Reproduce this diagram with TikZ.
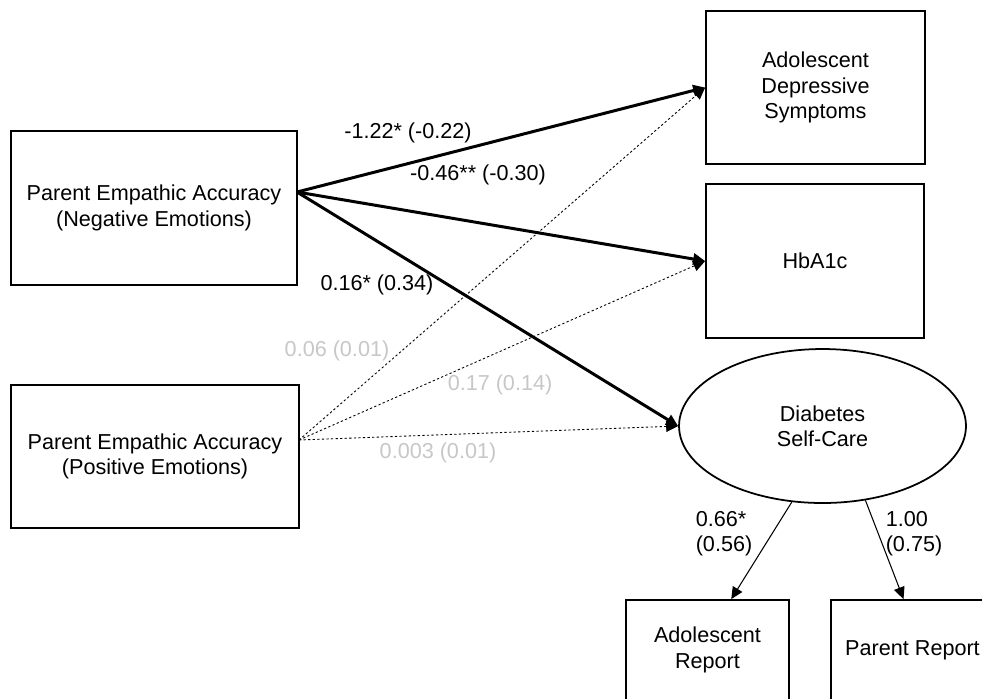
\documentclass[tikz,border=0pt]{standalone}
\usepackage{fontspec}
\setmainfont{Liberation Sans}
\usetikzlibrary{arrows.meta,positioning,shapes.geometric}

\begin{document}
\begin{tikzpicture}[
  x=0.02cm, y=-0.02cm,
  font=\fontsize{12.3}{14.4}\selectfont,
  box/.style={draw, line width=1pt, align=center, inner sep=0pt},
  latent/.style={draw, ellipse, line width=1pt, align=center, inner sep=0pt, minimum width=5.74cm, minimum height=3.08cm},
  sigpath/.style={-{Triangle[length=0.24cm, width=0.22cm]}, line width=1.7pt},
  nspath/.style={-{Triangle[length=0.24cm, width=0.22cm]}, line width=0.5pt, dash pattern=on 1.3pt off 1.3pt},
  loading/.style={-{Triangle[length=0.24cm, width=0.22cm]}, line width=0.6pt},
  coef/.style={inner sep=0pt},
  nscoef/.style={coef, text=black!22}
]
\clip (0,0) rectangle (982,698);

% predictors and outcomes
\node[box, minimum width=5.72cm, minimum height=3.08cm] (neg) at (154,208) {Parent Empathic Accuracy\\(Negative Emotions)};
\node[box, minimum width=5.76cm, minimum height=2.86cm] (pos) at (155,456.5) {Parent Empathic Accuracy\\(Positive Emotions)};
\node[box, minimum width=4.38cm, minimum height=3.06cm] (dep) at (815.5,87.5) {Adolescent\\Depressive\\Symptoms};
\node[box, minimum width=4.36cm, minimum height=3.08cm] (hba) at (815,261) {HbA1c};
\node[latent] (care) at (822.5,426) {Diabetes\\Self-Care};
\node[box, minimum width=3.26cm, minimum height=2cm] (adol) at (707.5,650) {Adolescent\\Report};
\node[box, minimum width=3.26cm, minimum height=2cm] (prep) at (912.5,650) {Parent Report};

\coordinate (negout) at (297,192);
\coordinate (posout) at (299,440);

% non-significant paths
\draw[nspath] (posout) -- (dep.west);
\draw[nspath] (posout) -- (hba.west);
\draw[nspath] (posout) -- (care.west);

% significant paths
\draw[sigpath] (negout) -- (dep.west);
\draw[sigpath] (negout) -- (hba.west);
\draw[sigpath] (negout) -- (care.west);

% measurement model
\draw[loading] (care.248) -- (adol.65);
\draw[loading] (care.300) -- (prep.100);

% coefficients
\node[coef] (cdep) at (408,133) {-1.22* (-0.22)};
\node[coef] (chba) at (478,175) {-0.46** (-0.30)};
\node[coef] (ccare) at (377,285) {0.16* (0.34)};
\node[nscoef] (pdep) at (337,351) {0.06 (0.01)};
\node[nscoef] (phba) at (500,385) {0.17 (0.14)};
\node[nscoef] (pcare) at (438,453) {0.003 (0.01)};
\node[coef, align=left] (ladol) at (724,534) {0.66*\\(0.56)};
\node[coef, align=left] (lprep) at (914,534) {1.00\\(0.75)};
\end{tikzpicture}
\end{document}
